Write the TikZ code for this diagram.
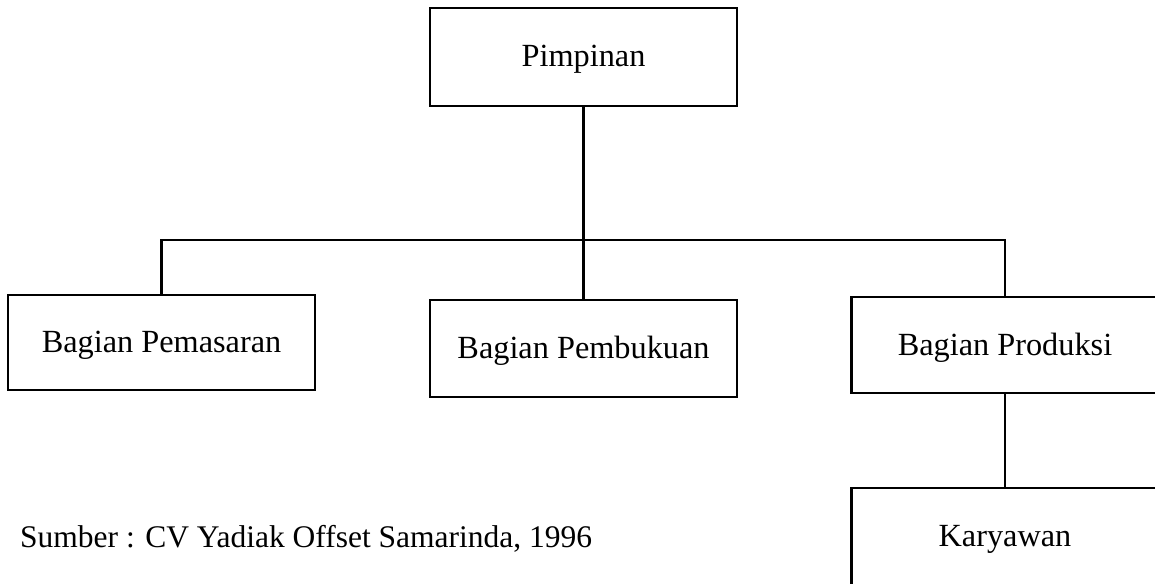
\documentclass[tikz,border=0pt]{standalone}
\usepackage{fontspec}
\setmainfont{Liberation Serif}
\begin{document}
\begin{tikzpicture}[x=1pt,y=-1pt,
  orgbox/.style={draw,line width=2.4pt,minimum width=307pt,minimum height=96pt,inner sep=0pt,
    text height=20pt,text depth=0pt,font=\fontsize{32.3}{38}\selectfont},
  conn/.style={line width=2.4pt}]
\useasboundingbox (0,0) rectangle (1155,583);
\clip (0,0) rectangle (1155,583);
\node[orgbox,minimum height=98pt] (pim) at (583.5,57) {Pimpinan};
\node[orgbox,minimum height=95pt] (pem) at (161.5,342.5) {Bagian Pemasaran};
\node[orgbox,minimum height=97pt] (buku) at (583.5,348.5) {Bagian Pembukuan};
\node[orgbox] (prod) at (1005,345) {Bagian Produksi};
\node[orgbox,minimum height=97pt] (kary) at (1005,536.5) {Karyawan};
\coordinate (jc) at (583.5,240);
\draw[conn] (pim.south) -- (jc);
\draw[conn] (pem.north) -- (pem.north |- jc) -- (prod.north |- jc) -- (prod.north);
\draw[conn] (jc) -- (buku.north);
\draw[conn] (prod.south) -- (kary.north);
\node[anchor=base west,inner sep=0pt,font=\fontsize{31.5}{38}\selectfont] (src) at (20,547) {Sumber : CV Yadiak Offset Samarinda, 1996};
\end{tikzpicture}
\end{document}
